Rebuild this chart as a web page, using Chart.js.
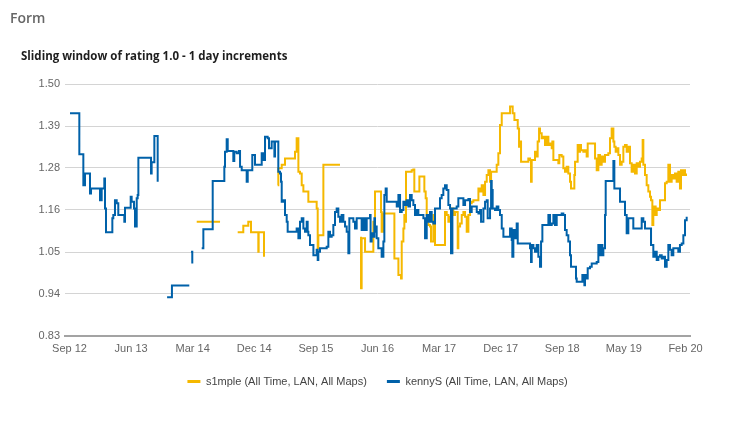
<!DOCTYPE html>
<html><head><meta charset="utf-8">
<script src="https://cdn.jsdelivr.net/npm/chart.js@4.4.1/dist/chart.umd.min.js"></script>
<style>
html,body{margin:0;padding:0;background:#fff;}
#wrap{position:relative;width:730px;height:431px;overflow:hidden;background:#fff;}
#chartBox{position:absolute;left:0;top:0;width:730px;height:431px;}
.t1{position:absolute;left:10px;top:11px;font:600 14px/14px "Open Sans",sans-serif;color:#666;white-space:nowrap;}
.t2{position:absolute;left:21px;top:50px;font:700 11.5px/12px "Open Sans",sans-serif;color:#1e1e1e;white-space:nowrap;}
</style></head><body>
<div id="wrap">
<div id="chartBox"><canvas id="c"></canvas></div>
<div class="t1">Form</div>
<div class="t2">Sliding window of rating 1.0 - 1 day increments</div>
</div>
<script>
// x values are months since Sep 2012
const seriesNames = ["s1mple (All Time, LAN, All Maps)", "kennyS (All Time, LAN, All Maps)"];
const xTickMonths = [0, 8.9, 17.8, 26.7, 35.6, 44.5, 53.4, 62.3, 71.2, 80.1, 89];
const xTickLabels = ["Sep 12","Jun 13","Mar 14","Dec 14","Sep 15","Jun 16","Mar 17","Dec 17","Sep 18","May 19","Feb 20"];
const yTickValues = [0.83, 0.9417, 1.0533, 1.165, 1.2767, 1.3883, 1.50];
const yTickLabels = ["0.83","0.94","1.05","1.16","1.28","1.39","1.50"];

const simpleMonths = [18.38,21.75,23.0,24.30,25.11,25.83,26.22,27.28,27.28,27.33,28.10,28.10,29.0,
30.08,30.17,30.66,31.14,32.34,32.58,32.82,33.07,33.07,33.30,33.55,33.79,34.27,34.51,35.47,35.71,35.86,35.95,36.68,39.08,40.5,
42.12,42.12,42.21,42.46,42.70,43.66,43.90,44.14,44.86,45.01,45.10,45.35,46.80,46.94,47.28,47.52,47.76,47.90,48.00,48.24,48.38,48.48,48.62,49.44,49.68,49.82,50.40,50.55,51.13,51.27,51.46,51.61,51.85,52.09,52.23,52.57,52.81,54.01,54.25,54.50,54.74,54.98,55.22,55.46,55.70,56.09,56.18,56.43,56.67,56.91,57.15,57.39,57.63,57.87,58.11,58.35,59.08,59.32,59.56,59.80,60.04,60.28,60.52,60.76,60.91,61.72,61.96,62.20,62.45,63.65,64.03,64.28,64.76,64.95,65.10,65.24,66.29,66.54,66.68,66.78,67.26,67.50,67.64,67.84,67.98,68.22,68.46,68.70,68.94,69.19,69.43,69.67,69.76,69.91,70.63,70.77,71.11,71.35,71.59,71.83,72.07,72.31,72.46,72.94,73.04,73.42,73.62,73.76,73.90,74.24,74.48,74.72,74.87,75.93,76.17,76.41,76.65,76.89,77.13,77.37,77.85,78.09,78.33,78.58,78.72,78.91,79.06,79.30,79.54,79.78,80.02,80.26,80.50,80.74,80.98,81.22,81.46,81.70,81.95,82.19,82.43,82.67,82.81,82.91,83.15,83.39,83.63,83.87,84.02,84.21,84.35,84.50,84.69,84.84,85.08,85.32,86.04,86.28,86.52,86.76,87.00,87.24,87.48,87.72,87.96,88.20,88.35,88.54,88.69,88.93,89.07];
const simpleRatings = [1.134,1.134,null,1.106,1.123,1.134,1.106,1.106,1.054,1.106,1.106,1.041,null,
1.231,1.276,1.285,1.302,1.302,1.320,1.356,1.311,1.267,1.262,1.231,1.214,1.214,1.187,1.187,1.169,1.063,1.098,1.285,1.285,null,
1.094,0.957,1.090,1.090,1.054,1.054,1.134,1.214,1.214,1.160,1.107,1.156,1.156,1.036,1.036,0.992,0.992,0.983,1.081,1.116,1.152,1.134,1.267,1.271,1.273,1.214,1.214,1.254,1.254,1.214,1.196,1.152,1.125,1.121,1.081,1.152,1.072,1.072,1.160,1.152,1.134,1.147,1.169,1.152,1.160,1.063,1.121,1.129,1.152,1.160,1.147,1.107,1.152,1.183,1.187,1.191,1.222,1.214,1.231,1.205,1.240,1.258,1.271,1.240,1.267,1.285,1.316,1.391,1.422,1.440,1.422,1.404,1.382,1.333,1.347,1.293,1.302,1.298,1.240,1.298,1.320,1.307,1.347,1.382,1.369,1.356,1.360,1.338,1.360,1.338,1.342,1.329,1.347,1.298,1.289,1.311,1.307,1.276,1.267,1.280,1.262,1.240,1.222,1.258,1.293,1.338,1.320,1.338,1.324,1.320,1.324,1.307,1.342,1.302,1.271,1.311,1.285,1.307,1.293,1.311,1.316,1.356,1.382,1.347,1.333,1.320,1.329,1.311,1.285,1.293,1.333,1.338,1.320,1.333,1.289,1.267,1.285,1.262,1.289,1.280,1.293,1.302,1.351,1.285,1.258,1.231,1.214,1.200,1.191,1.125,1.152,1.174,1.152,1.169,1.165,1.191,1.236,1.240,1.285,1.240,1.258,1.249,1.262,1.240,1.267,1.222,1.271,1.258,1.271,1.258,1.262];

const kennyMonths = [0.07,1.28,1.42,1.90,2.0,2.24,2.96,2.96,3.11,4.41,4.41,4.65,5.03,5.13,5.27,6.09,6.19,6.33,6.57,6.82,7.05,7.77,7.92,8.02,8.74,8.84,8.98,9.22,9.32,9.46,9.61,9.71,9.85,9.95,11.73,11.78,11.87,12.11,12.26,12.60,12.74,13.4,
14.1,14.75,14.8,17.31,17.45,17.56,17.74,18.5,
19.10,19.34,20.69,20.69,22.22,22.37,22.47,22.71,22.86,23.43,23.67,23.81,24.16,24.49,24.64,24.88,25.36,25.60,25.75,26.08,26.41,26.70,26.80,27.52,27.77,28.00,28.25,28.63,28.82,29.21,29.45,29.60,29.69,30.08,30.17,30.41,30.56,30.66,30.90,31.14,31.38,31.52,32.58,32.82,33.07,33.30,33.55,33.79,34.03,34.27,34.41,34.51,34.75,34.99,35.24,35.47,35.71,35.86,35.95,36.19,36.68,37.16,37.40,37.64,37.88,38.12,38.36,38.60,38.84,39.08,39.32,39.57,39.81,40.05,40.29,40.43,40.77,41.01,41.25,41.49,41.97,42.21,42.46,42.70,42.94,43.42,43.50,43.66,43.90,44.05,44.14,44.28,44.38,44.62,44.86,45.10,45.35,45.49,45.68,45.83,47.04,47.28,47.52,47.76,48.00,48.24,48.48,48.72,48.96,49.20,49.44,49.68,49.92,50.16,50.40,50.88,51.13,51.37,51.61,51.85,52.09,52.33,52.57,52.81,53.29,53.53,53.77,54.01,54.25,54.50,54.74,54.98,55.12,55.32,55.70,55.94,56.18,56.67,56.91,57.15,57.63,57.87,58.11,58.60,58.84,59.08,59.32,59.46,59.80,60.04,60.28,60.42,60.76,60.91,61.00,61.14,61.48,61.72,61.96,62.20,62.45,62.69,63.41,63.65,63.89,63.98,64.13,64.37,64.61,64.76,66.29,66.54,66.68,66.78,67.02,67.26,67.50,67.74,67.98,68.13,68.32,69.09,69.19,69.43,69.67,69.91,70.15,70.39,71.11,71.35,71.59,71.83,72.07,72.31,72.46,73.04,73.18,73.28,74.00,74.10,74.24,74.39,74.48,74.72,74.87,75.20,75.45,75.93,76.17,76.41,76.65,76.89,76.99,77.13,77.37,77.47,78.33,78.58,78.72,79.30,79.54,80.02,80.26,80.50,80.74,81.22,81.46,82.43,82.67,82.91,83.15,83.87,84.02,84.35,84.60,84.84,85.08,85.32,85.56,85.80,86.04,86.28,86.52,86.76,87.00,87.24,87.72,87.96,88.20,88.45,88.69,88.93,89.17];
const kennyRatings = [1.422,1.422,1.313,1.313,1.231,1.262,1.262,1.209,1.222,1.222,1.191,1.222,1.249,1.169,1.106,1.106,1.143,1.152,1.191,1.183,1.152,1.152,1.134,1.171,1.171,1.200,1.187,1.187,1.169,1.121,1.121,1.196,1.205,1.304,1.304,1.262,1.292,1.292,1.362,1.362,1.240,null,
0.933,0.933,0.964,0.964,null,1.054,1.023,null,
1.063,1.114,1.114,1.242,1.242,1.280,1.320,1.353,1.322,1.322,1.295,1.320,1.316,1.322,1.280,1.271,1.271,1.240,1.271,1.271,1.311,1.311,1.285,1.285,1.316,1.298,1.360,1.356,1.329,1.347,1.347,1.307,1.347,1.347,1.267,1.262,1.240,1.187,1.191,1.152,1.134,1.107,1.107,1.116,1.090,1.134,1.143,1.116,1.107,1.134,1.107,1.098,1.072,1.072,1.045,1.045,1.059,1.032,1.054,1.063,1.063,1.067,1.107,1.094,1.098,1.125,1.160,1.169,1.147,1.134,1.152,1.134,1.121,1.107,1.050,1.143,1.143,1.134,1.116,1.143,1.143,1.112,1.143,1.112,1.143,1.152,1.081,1.103,1.094,1.143,1.107,1.121,1.090,1.063,1.063,1.041,1.081,1.205,1.222,1.187,1.187,1.174,1.205,1.160,1.165,1.187,1.178,1.191,1.174,1.205,1.191,1.178,1.152,1.165,1.152,1.152,1.143,1.090,1.152,1.134,1.160,1.134,1.129,1.169,1.169,1.196,1.205,1.222,1.231,1.218,1.178,1.169,1.050,1.169,1.169,1.174,1.196,1.196,1.178,1.191,1.194,1.160,1.174,1.174,1.160,1.156,1.165,1.134,1.169,1.187,1.191,1.143,1.169,1.242,1.218,1.169,1.165,1.174,1.165,1.152,1.116,1.094,1.094,1.116,1.085,1.041,1.112,1.090,1.129,1.076,1.076,1.063,1.027,1.072,1.063,1.054,1.072,1.041,1.014,1.081,1.125,1.125,1.152,1.125,1.129,1.152,1.125,1.152,1.156,1.152,1.112,1.098,1.081,1.045,1.014,1.014,0.983,0.974,0.974,0.992,0.974,0.965,0.992,0.983,1.010,1.014,1.023,1.023,1.027,1.072,1.045,1.072,1.045,1.063,1.152,1.242,1.242,1.295,1.222,1.222,1.187,1.187,1.152,1.103,1.143,1.143,1.116,1.116,1.143,1.134,1.116,1.116,1.072,1.041,1.054,1.032,1.041,1.045,1.036,1.041,1.014,1.032,1.072,1.059,1.045,1.063,1.063,1.054,1.072,1.076,1.098,1.138,1.147];

const colors = ['#F5B800', '#0061A9'];
function pts(ms, vs) { return ms.map((m, i) => ({x: m, y: vs[i]})); }

const axisFont = {family: '"Liberation Sans", Arial, sans-serif', size: 11};

new Chart(document.getElementById('c'), {
  type: 'line',
  data: {
    datasets: [
      {label: seriesNames[0], data: pts(simpleMonths, simpleRatings), borderColor: colors[0], backgroundColor: colors[0],
       borderWidth: 2, pointRadius: 0, stepped: true, spanGaps: false, order: 2},
      {label: seriesNames[1], data: pts(kennyMonths, kennyRatings), borderColor: colors[1], backgroundColor: colors[1],
       borderWidth: 2, pointRadius: 0, stepped: true, spanGaps: false, order: 1}
    ]
  },
  options: {
    responsive: true, maintainAspectRatio: false, animation: false,
    parsing: false, normalized: true,
    layout: {padding: {top: 84, right: 40, bottom: 34, left: 0}},
    interaction: {mode: 'nearest', intersect: false},
    plugins: {
      tooltip: {enabled: false},
      title: {display: false},
      legend: {
        position: 'bottom', fullSize: false,
        labels: {
          boxWidth: 13, boxHeight: 3, padding: 20, color: '#444', font: axisFont,
          sort: (a, b) => a.datasetIndex - b.datasetIndex,
          generateLabels: (chart) => Chart.defaults.plugins.legend.labels.generateLabels(chart).map(l => Object.assign(l, {lineWidth: 0}))
        }
      }
    },
    scales: {
      x: {
        type: 'linear', min: -0.65, max: 89.65,
        grid: {display: false, drawTicks: false, tickLength: 0},
        border: {display: true, color: '#a3a3a3', width: 2},
        afterBuildTicks: (s) => { s.ticks = xTickMonths.map(v => ({value: v})); },
        afterFit: (s) => { s.height = 20; },
        ticks: {autoSkip: false, maxRotation: 0, minRotation: 0, padding: 6, color: '#666', font: axisFont,
          callback: (v, i) => xTickLabels[i]}
      },
      y: {
        min: 0.83, max: 1.50,
        grid: {color: (ctx) => ctx.index === 0 ? 'rgba(0,0,0,0)' : '#d4d4d4', drawTicks: false, lineWidth: 1},
        border: {display: false},
        afterBuildTicks: (s) => { s.ticks = yTickValues.map(v => ({value: v})); },
        afterFit: (s) => { s.width = 65; },
        ticks: {padding: 5, color: '#666', font: axisFont, callback: (v, i) => yTickLabels[i]}
      }
    }
  }
});
</script>
</body></html>
